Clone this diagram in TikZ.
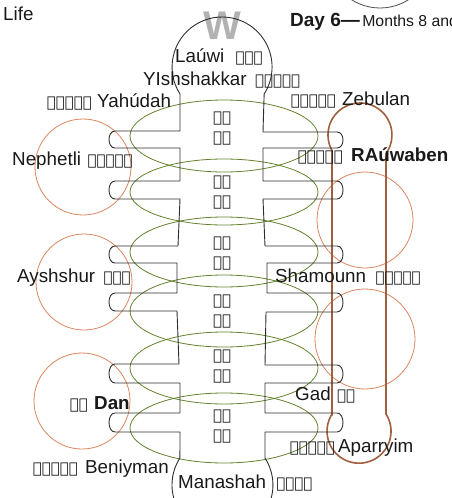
\documentclass[tikz,border=0pt]{standalone}
\usepackage{fontspec}
\setmainfont{Liberation Sans}
\newfontfamily\paleofont{DejaVu Sans}
\usetikzlibrary{positioning}
\definecolor{loopgreen}{RGB}{98,130,46}
\definecolor{ringorange}{RGB}{218,132,94}
\definecolor{capsbrown}{RGB}{160,96,62}
\definecolor{inkgray}{RGB}{45,45,45}
\tikzset{
tribelbl/.style={font=\fontsize{18.8}{20}\selectfont,text=black!90,inner sep=0pt},
tribebold/.style={tribelbl,font=\fontsize{18.8}{20}\selectfont\bfseries},
paleo/.style={font=\paleofont\fontsize{15}{16}\selectfont,text=black!90,inner sep=0pt},
camploop/.style={draw=loopgreen,line width=0.8pt},
campring/.style={draw=ringorange,line width=0.8pt},
tentline/.style={draw=inkgray,line width=0.9pt,line join=round},
capsule/.style={draw=capsbrown,line width=1.6pt}
}
\begin{document}
\begin{tikzpicture}[x=1pt,y=-1pt]
\useasboundingbox (0,0) rectangle (451,498);
% heading
\node[tribelbl,anchor=base west] (life) at (3,20) {Life};
\node[tribebold,font=\fontsize{19}{21}\selectfont\bfseries,anchor=base west] (day) at (290,26) {Day 6—};
\node[tribelbl,font=\fontsize{15.8}{18}\selectfont,base right=2pt of day] (months) {Months 8 and};
\draw[draw=inkgray!85,line width=0.8pt] (380,-45) circle (53);
\node[font=\fontsize{40}{40}\selectfont\bfseries,text=black!30,inner sep=0pt] (shin) at (222,26) {W};
% camp loops and rings
\foreach \cy/\ry in {136/36,192/33,252/35,311/36,368/36,428/35}
  \draw[camploop] (224,\cy) ellipse [x radius=94,y radius=\ry];
\foreach \cx/\cy/\r in {83/167/48,84/282/48,82/401/48,365/220/48,365/339/50}
  \draw[campring] (\cx,\cy) circle (\r);
\draw[capsule] (332,415) -- (332,150.5) arc[start angle=151,end angle=395.7,radius=32]
  -- (386,414) arc[start angle=-32.5,end angle=209,radius=32] -- cycle;
% tabernacle outline
\draw[tentline] (222,485) ++(150:50) arc[start angle=150,end angle=212.7,radius=50]
  -- (180,432) -- (115,432) .. controls (107,432) and (107,413) .. (115,413) -- (180,413)
  -- (180,383) -- (115,383) .. controls (107,383) and (107,364) .. (115,364) -- (179,364)
  -- (177,311) -- (115,311) .. controls (107,311) and (107,293) .. (115,293) -- (177,293)
  -- (177,263) -- (115,263) .. controls (107,263) and (107,246) .. (115,246) -- (178,246)
  -- (180,199) -- (115,199) .. controls (107,199) and (107,181) .. (115,181) -- (180,181)
  -- (180,148) -- (115,148) .. controls (107,148) and (107,131) .. (115,131) -- (180,131)
  -- (180,94) arc[start angle=147.3,end angle=392.7,radius=50]
  -- (263,132) -- (337,132) .. controls (345,132) and (345,148) .. (337,148) -- (263,148)
  -- (263,181) -- (337,181) .. controls (345,181) and (345,199) .. (337,199) -- (263,199)
  -- (265,246) -- (337,246) .. controls (345,246) and (345,263) .. (337,263) -- (267,263)
  -- (267,293) -- (337,293) .. controls (345,293) and (345,312) .. (337,312) -- (266,312)
  -- (265,365) -- (337,365) .. controls (345,365) and (345,383) .. (337,383) -- (265,383)
  -- (265,413) -- (337,413) .. controls (345,413) and (345,432) .. (337,432) -- (265,432)
  -- (265,458) arc[start angle=-32.7,end angle=30,radius=50];
% letter pairs in the middle
\foreach \yy/\up/\dn [count=\i] in {119/𐤎𐤔/𐤏𐤓,183/𐤀𐤆/𐤁𐤅,244/𐤐𐤒/𐤑𐤑,302/𐤈𐤌/𐤊𐤊,357/𐤂𐤄/𐤃𐤃,417/𐤇𐤍/𐤈𐤌}{
  \node[paleo] (pairup\i) at (222,\yy) {\up};
  \node[paleo,below=6pt of pairup\i] (pairdn\i) {\dn};
}
% tribes
\node[tribelbl,anchor=base west] (lauwi) at (175,62) {Laúwi};
\node[paleo,base right=11pt of lauwi] (lauwiP) {𐤋𐤅𐤉};
\node[tribelbl,anchor=base west] (yish) at (143,85) {YIshshakkar};
\node[paleo,base right=8pt of yish] (yishP) {𐤉𐤔𐤔𐤊𐤓};
\node[tribelbl,anchor=base west] (yahu) at (97,107) {Yahúdah};
\node[paleo,base left=5pt of yahu] (yahuP) {𐤉𐤄𐤅𐤃𐤄};
\node[tribelbl,anchor=base west] (zebu) at (342,105) {Zebulan};
\node[paleo,base left=6pt of zebu] (zebuP) {𐤆𐤁𐤅𐤋𐤍};
\node[tribelbl,anchor=base west] (neph) at (12,165) {Nephetli};
\node[paleo,base right=6pt of neph] (nephP) {𐤍𐤐𐤕𐤋𐤉};
\node[tribebold,anchor=base west] (reub) at (351,161) {RAúwaben};
\node[paleo,base left=8pt of reub] (reubP) {𐤓𐤀𐤅𐤁𐤍};
\node[tribelbl,anchor=base west] (ashr) at (17,282) {Ayshshur};
\node[paleo,base right=8pt of ashr] (ashrP) {𐤀𐤔𐤓};
\node[tribelbl,anchor=base west] (shim) at (275,282) {Shamounn};
\node[paleo,base right=9pt of shim] (shimP) {𐤔𐤌𐤏𐤅𐤍};
\node[tribebold,anchor=base west] (dan) at (94,409) {Dan};
\node[paleo,base left=6pt of dan] (danP) {𐤃𐤍};
\node[tribelbl,anchor=base west] (gad) at (295,400) {Gad};
\node[paleo,base right=6pt of gad] (gadP) {𐤂𐤃};
\node[tribelbl,anchor=base west] (ephr) at (338,452) {Aparryim};
\node[paleo,base left=3pt of ephr] (ephrP) {𐤀𐤐𐤓𐤉𐤌};
\node[tribelbl,anchor=base west] (benj) at (85,473) {Beniyman};
\node[paleo,base left=7pt of benj] (benjP) {𐤁𐤍𐤉𐤌𐤍};
\node[tribelbl,anchor=base west] (mana) at (178,488) {Manashah};
\node[paleo,base right=10pt of mana] (manaP) {𐤌𐤍𐤔𐤄};
\end{tikzpicture}
\end{document}
